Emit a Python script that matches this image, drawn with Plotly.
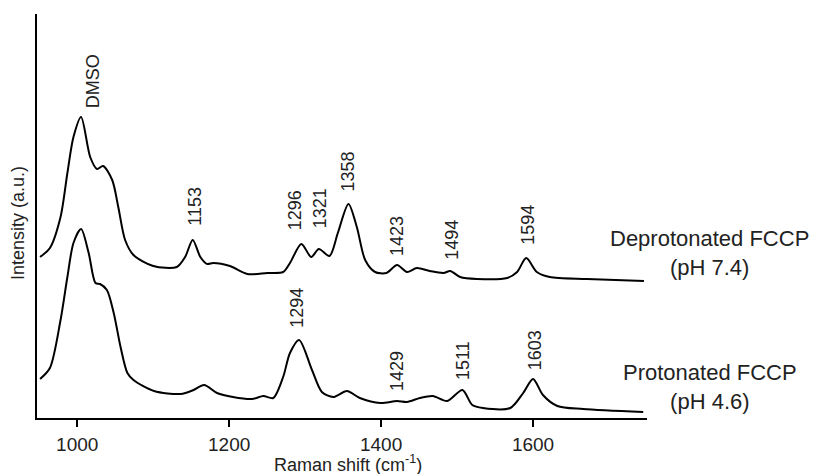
import plotly.graph_objects as go

# Deprotonated FCCP (pH 7.4) spectrum, offset upward (arbitrary units)
deprot_x = [951, 964, 978, 987, 995, 1005, 1017, 1026, 1034, 1046, 1054, 1063, 1074, 1100,
            1131, 1142, 1152, 1162, 1171, 1179, 1201, 1224, 1250, 1271, 1280, 1295, 1308,
            1318, 1332, 1343, 1357, 1368, 1379, 1392, 1407, 1421, 1434, 1447, 1464, 1482,
            1491, 1504, 1526, 1566, 1579, 1591, 1605, 1622, 1671, 1746]
deprot_y = [161, 170, 201, 245, 281, 301, 261, 249, 252, 238, 211, 178, 163, 152,
            151, 161, 178, 161, 154, 155, 152, 144, 145, 146, 155, 174, 161,
            169, 162, 185, 214, 191, 158, 146, 145, 153, 146, 150, 147, 145,
            147, 141, 139, 140, 146, 160, 146, 141, 139, 137]

# Protonated FCCP (pH 4.6) spectrum
prot_x = [951, 964, 978, 987, 995, 1005, 1015, 1024, 1030, 1039, 1048, 1057, 1066, 1074,
          1101, 1136, 1153, 1167, 1184, 1205, 1230, 1245, 1258, 1271, 1280, 1292, 1309,
          1322, 1337, 1355, 1372, 1399, 1421, 1434, 1451, 1468, 1487, 1507, 1520, 1534,
          1570, 1587, 1600, 1613, 1632, 1666, 1745]
prot_y = [39, 50, 98, 141, 175, 189, 165, 135, 134, 128, 105, 71, 45, 38,
          27, 24, 28, 33, 25, 21, 19, 22, 20, 41, 65, 78, 48,
          26, 21, 27, 20, 15, 17, 16, 20, 22, 17, 28, 13, 10,
          10, 25, 39, 23, 12, 9, 6]

# Peak labels
deprot_labels = ["DMSO", "1153", "1296", "1321", "1358", "1423", "1494", "1594"]
deprot_label_x = [1021, 1154, 1287, 1320, 1357, 1421, 1493, 1593]
deprot_label_y = [308, 190, 186, 188, 225, 160, 156, 171]

prot_labels = ["1294", "1429", "1511", "1603"]
prot_label_x = [1289, 1421, 1507, 1603]
prot_label_y = [88, 25, 36, 46]

x_ticks = [1000, 1200, 1400, 1600]

FONT = "Liberation Sans, Arial, sans-serif"
TXT = "#222"

fig = go.Figure()
fig.add_trace(go.Scatter(x=deprot_x, y=deprot_y, mode="lines",
                         line=dict(color="black", width=2, shape="spline", smoothing=0.8),
                         showlegend=False, hoverinfo="skip"))
fig.add_trace(go.Scatter(x=prot_x, y=prot_y, mode="lines",
                         line=dict(color="black", width=2, shape="spline", smoothing=0.8),
                         showlegend=False, hoverinfo="skip"))

annotations = []
for t, x, y in zip(deprot_labels + prot_labels, deprot_label_x + prot_label_x,
                   deprot_label_y + prot_label_y):
    annotations.append(dict(x=x, y=y, xref="x", yref="y", text=t, showarrow=False,
                            textangle=-90, xanchor="center", yanchor="bottom",
                            font=dict(size=18, color=TXT, family=FONT)))

annotations.append(dict(x=1.103, y=165, xref="paper", yref="y",
                        text="Deprotonated FCCP<br>(pH 7.4)", showarrow=False,
                        xanchor="center", yanchor="middle", align="center",
                        font=dict(size=22, color=TXT, family=FONT)))
annotations.append(dict(x=1.103, y=31, xref="paper", yref="y",
                        text="Protonated FCCP<br>(pH 4.6)", showarrow=False,
                        xanchor="center", yanchor="middle", align="center",
                        font=dict(size=22, color=TXT, family=FONT)))

# axis titles
annotations.append(dict(x=0.51, y=-0.113, xref="paper", yref="paper",
                        text="Raman shift (cm<sup>-1</sup>)", showarrow=False,
                        xanchor="center", yanchor="middle",
                        font=dict(size=18, color=TXT, family=FONT)))
annotations.append(dict(x=-0.031, y=0.483, xref="paper", yref="paper",
                        text="Intensity (a.u.)", showarrow=False, textangle=-90,
                        xanchor="center", yanchor="middle",
                        font=dict(size=18, color=TXT, family=FONT)))

fig.update_layout(
    width=814, height=474,
    margin=dict(l=37, r=167, t=14, b=56),
    plot_bgcolor="white", paper_bgcolor="white",
    font=dict(family=FONT, color=TXT),
    annotations=annotations,
    xaxis=dict(range=[947, 1750], tickvals=x_ticks, ticktext=[str(v) for v in x_ticks],
               ticks="outside", ticklen=7, tickwidth=1.5, tickcolor="black",
               showline=True, linecolor="black", linewidth=2, showgrid=False, zeroline=False,
               automargin=False, ticklabelstandoff=1,
               tickfont=dict(size=19, family=FONT, color=TXT)),
    yaxis=dict(range=[0, 404], showticklabels=False, ticks="", showline=True,
               linecolor="black", linewidth=2, showgrid=False, zeroline=False,
               automargin=False),
)

fig.write_html("out.html", config={"displayModeBar": False},
               post_script="document.body.style.margin='0';document.body.style.overflow='hidden';")
